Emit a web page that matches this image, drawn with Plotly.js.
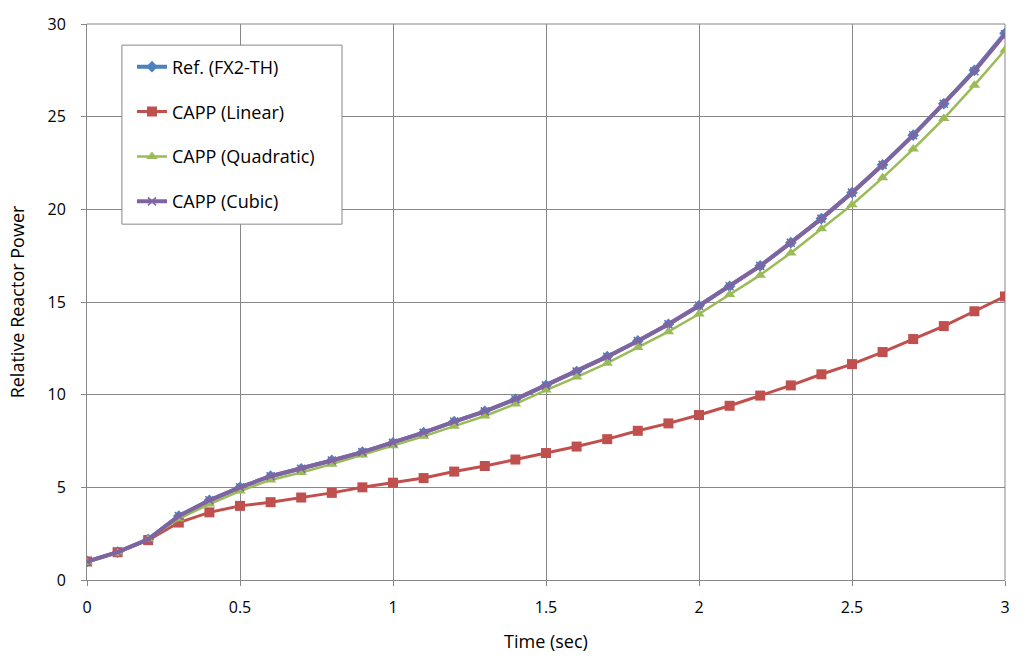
<!DOCTYPE html>
<html>
<head>
<meta charset="utf-8">
<script src="https://cdn.plot.ly/plotly-3.0.1.min.js"></script>
<style>html,body{margin:0;padding:0;background:#fff;}#chart{width:1025px;height:664px;}</style>
</head>
<body>
<div id="chart"></div>
<script>
const time = [0,0.1,0.2,0.3,0.4,0.5,0.6,0.7,0.8,0.9,1.0,1.1,1.2,1.3,1.4,1.5,1.6,1.7,1.8,1.9,2.0,2.1,2.2,2.3,2.4,2.5,2.6,2.7,2.8,2.9,3.0];
const refFX2TH = [1.0,1.5,2.2,3.45,4.3,5.0,5.6,6.0,6.45,6.9,7.4,7.95,8.55,9.1,9.75,10.5,11.25,12.05,12.9,13.8,14.8,15.85,16.95,18.2,19.5,20.9,22.4,24.0,25.7,27.5,29.5];
const cappLinear = [1.0,1.5,2.15,3.1,3.65,4.0,4.2,4.45,4.7,5.0,5.25,5.5,5.85,6.15,6.5,6.85,7.2,7.6,8.05,8.45,8.9,9.4,9.95,10.5,11.1,11.65,12.3,13.0,13.7,14.5,15.3];
const cappQuadratic = [0.95,1.45,2.2,3.3,4.1,4.8,5.4,5.8,6.25,6.75,7.25,7.75,8.3,8.85,9.5,10.25,10.95,11.7,12.55,13.4,14.35,15.4,16.45,17.65,18.95,20.25,21.7,23.25,24.9,26.7,28.6];
const cappCubic = [1.0,1.5,2.2,3.45,4.3,5.0,5.6,6.0,6.45,6.9,7.4,7.95,8.55,9.1,9.75,10.5,11.25,12.05,12.9,13.8,14.8,15.85,16.95,18.2,19.5,20.9,22.4,24.0,25.7,27.45,29.45];
const xTicks = [0,0.5,1,1.5,2,2.5,3];
const xTickText = ['0','0.5','1','1.5','2','2.5','3'];
const yTicks = [0,5,10,15,20,25,30];

const FONT = 'Open Sans, Noto Sans, sans-serif';

const traces = [
  {x: time, y: refFX2TH, name: 'Ref. (FX2-TH)', mode: 'lines+markers', legendgroup: 'a',
   line: {color: '#4F81BD', width: 4}, marker: {symbol: 'diamond', size: 9, color: '#4F81BD'}},
  {x: time, y: cappLinear, name: 'CAPP (Linear)', mode: 'lines+markers', legendgroup: 'b',
   line: {color: '#C0504D', width: 3}, marker: {symbol: 'square', size: 10, color: '#C0504D'}},
  {x: time, y: cappQuadratic, name: 'CAPP (Quadratic)', mode: 'lines+markers', legendgroup: 'c',
   line: {color: '#9BBB59', width: 2.5}, marker: {symbol: 'triangle-up', size: 10, color: '#9BBB59'}},
  {x: time, y: cappCubic, name: 'CAPP (Cubic)', mode: 'lines+markers', legendgroup: 'd',
   line: {color: '#8064A2', width: 4}, marker: {symbol: 'x-thin', size: 8, color: '#8064A2', line: {color: '#8064A2', width: 1.5}}}
];

const layout = {
  width: 1025, height: 664,
  margin: {l: 87, r: 20, t: 24, b: 84},
  paper_bgcolor: '#ffffff', plot_bgcolor: '#ffffff',
  font: {family: FONT, size: 16, color: '#000'},
  showlegend: true,
  legend: {x: 0.049, y: 0.956, xanchor: 'left', yanchor: 'top', bgcolor: 'rgba(0,0,0,0)', borderwidth: 0,
    font: {family: FONT, size: 18, color: '#000'}, tracegroupgap: 18.5, itemwidth: 30},
  xaxis: {range: [0, 3], tickvals: xTicks, ticktext: xTickText, showgrid: true, gridcolor: '#878787', gridwidth: 1,
    zeroline: false, showline: true, linecolor: '#878787', linewidth: 1, mirror: false,
    ticks: 'outside', ticklen: 5, tickcolor: '#878787', tickfont: {family: FONT, size: 16}, ticklabelstandoff: 8,
    title: {text: 'Time (sec)', font: {family: FONT, size: 18}, standoff: 18}},
  yaxis: {range: [0, 30], tickvals: yTicks, showgrid: true, gridcolor: '#878787', gridwidth: 1,
    zeroline: false, showline: true, linecolor: '#878787', linewidth: 1,
    ticks: 'outside', ticklen: 5, tickcolor: '#878787', tickfont: {family: FONT, size: 16}, ticklabelstandoff: 12,
    title: {text: 'Relative Reactor Power', font: {family: FONT, size: 18}, standoff: 18}},
  shapes: [
    {type: 'rect', xref: 'paper', yref: 'paper', x0: 0.038, x1: 0.2778, y0: 0.640, y1: 0.962,
     fillcolor: '#ffffff', line: {color: '#878787', width: 1}, layer: 'above'},
    {type: 'line', xref: 'paper', yref: 'paper', x0: 1, x1: 1, y0: 0, y1: 1, line: {color: '#878787', width: 1}, layer: 'below'},
    {type: 'line', xref: 'paper', yref: 'paper', x0: 0, x1: 1, y0: 1, y1: 1, line: {color: '#878787', width: 1}, layer: 'below'}
  ]
};

Plotly.newPlot('chart', traces, layout, {displayModeBar: false, staticPlot: true});
</script>
</body>
</html>
